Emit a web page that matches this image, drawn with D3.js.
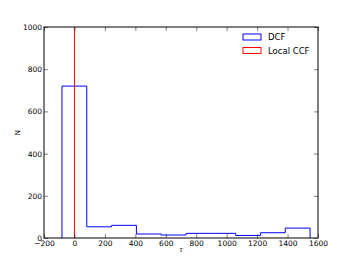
<!DOCTYPE html>
<html>
  <head>
    <meta charset="utf-8">
    <title>DCF histogram</title>
    <script src="https://d3js.org/d3.v7.min.js"></script>
    <style>
      body { margin: 0; background: #fff; }
      text { font-family: "DejaVu Sans", sans-serif; }
    </style>
  </head>
  <body>
    <script>
      // bin edges and counts
      const binEdges = [-82, 81, 244, 407, 570, 733, 896, 1059, 1222, 1385, 1548];
      const binCounts = [720, 53, 60, 19, 14, 22, 22, 12, 25, 47];
      const ccfPeak = 0;
      const xTicks = [-200, 0, 200, 400, 600, 800, 1000, 1200, 1400, 1600];
      const yTicks = [0, 200, 400, 600, 800, 1000];
      const legendLabels = ["DCF", "Local CCF"];

      const width = 354, height = 265;
      const margin = {top: 27, right: 36, bottom: 27, left: 44};

      const svg = d3.select("body").append("svg")
          .attr("width", width)
          .attr("height", height);

      const x = d3.scaleLinear().domain([-200, 1600]).range([margin.left, width - margin.right]);
      const y = d3.scaleLinear().domain([0, 1000]).range([height - margin.bottom, margin.top]);

      // step outline of the histogram
      const pts = [[binEdges[0], 0]];
      binCounts.forEach(function(c, i) {
        pts.push([binEdges[i], c]);
        pts.push([binEdges[i + 1], c]);
      });
      pts.push([binEdges[binEdges.length - 1], 0]);

      const line = d3.line()
          .x(function(d) { return x(d[0]); })
          .y(function(d) { return y(d[1]); });

      const plot = svg.append("g");
      plot.append("path")
          .attr("d", line(pts))
          .attr("fill", "none")
          .attr("stroke", "#0000ff")
          .attr("stroke-width", 1);

      plot.append("line")
          .attr("x1", x(ccfPeak)).attr("x2", x(ccfPeak))
          .attr("y1", y(0)).attr("y2", y(1000))
          .attr("stroke", "#ff0000")
          .attr("stroke-width", 1);

      // axes with inward ticks, matplotlib classic style
      const fs = "7.5px";
      const axBottom = svg.append("g")
          .attr("transform", "translate(0," + y(0) + ")")
          .call(d3.axisBottom(x).tickValues(xTicks).tickSize(-4).tickPadding(3)
            .tickFormat(function(d) { return d < 0 ? "\u2212" + Math.abs(d) : String(d); }));
      const axTop = svg.append("g")
          .attr("transform", "translate(0," + y(1000) + ")")
          .call(d3.axisTop(x).tickValues(xTicks).tickSize(-4).tickFormat(""));
      const axLeft = svg.append("g")
          .attr("transform", "translate(" + x(-200) + ",0)")
          .call(d3.axisLeft(y).tickValues(yTicks).tickSize(-4).tickPadding(2)
            .tickFormat(d3.format("d")));
      const axRight = svg.append("g")
          .attr("transform", "translate(" + x(1600) + ",0)")
          .call(d3.axisRight(y).tickValues(yTicks).tickSize(-4).tickFormat(""));

      [axBottom, axTop, axLeft, axRight].forEach(function(g) {
        g.attr("font-family", "DejaVu Sans");
        g.select(".domain").remove();
        g.selectAll(".tick line").attr("stroke", "#000").attr("stroke-width", 0.5);
        g.selectAll("text").attr("font-size", fs).attr("fill", "#000");
      });

      svg.append("rect")
          .attr("x", x(-200)).attr("y", y(1000))
          .attr("width", x(1600) - x(-200)).attr("height", y(0) - y(1000))
          .attr("fill", "none").attr("stroke", "#000").attr("stroke-width", 1);

      // axis labels
      svg.append("text")
          .attr("x", (x(-200) + x(1600)) / 2).attr("y", 252)
          .attr("text-anchor", "middle").attr("font-size", "6.5px").attr("font-style", "italic")
          .text("\u03c4");
      svg.append("text")
          .attr("transform", "translate(20," + ((y(0) + y(1000)) / 2) + ") rotate(-90)")
          .attr("text-anchor", "middle").attr("font-size", "7px")
          .text("N");

      // legend
      const colors = ["#0000ff", "#ff0000"];
      const legend = svg.append("g");
      legendLabels.forEach(function(lab, i) {
        const ly = 37 + i * 13.5;
        legend.append("rect")
            .attr("x", 243).attr("y", ly - 3)
            .attr("width", 18).attr("height", 6)
            .attr("fill", "none").attr("stroke", colors[i]).attr("stroke-width", 1);
        legend.append("text")
            .attr("x", 268).attr("y", ly + 3)
            .attr("font-size", "8.5px")
            .text(lab);
      });
    </script>
  </body>
</html>
